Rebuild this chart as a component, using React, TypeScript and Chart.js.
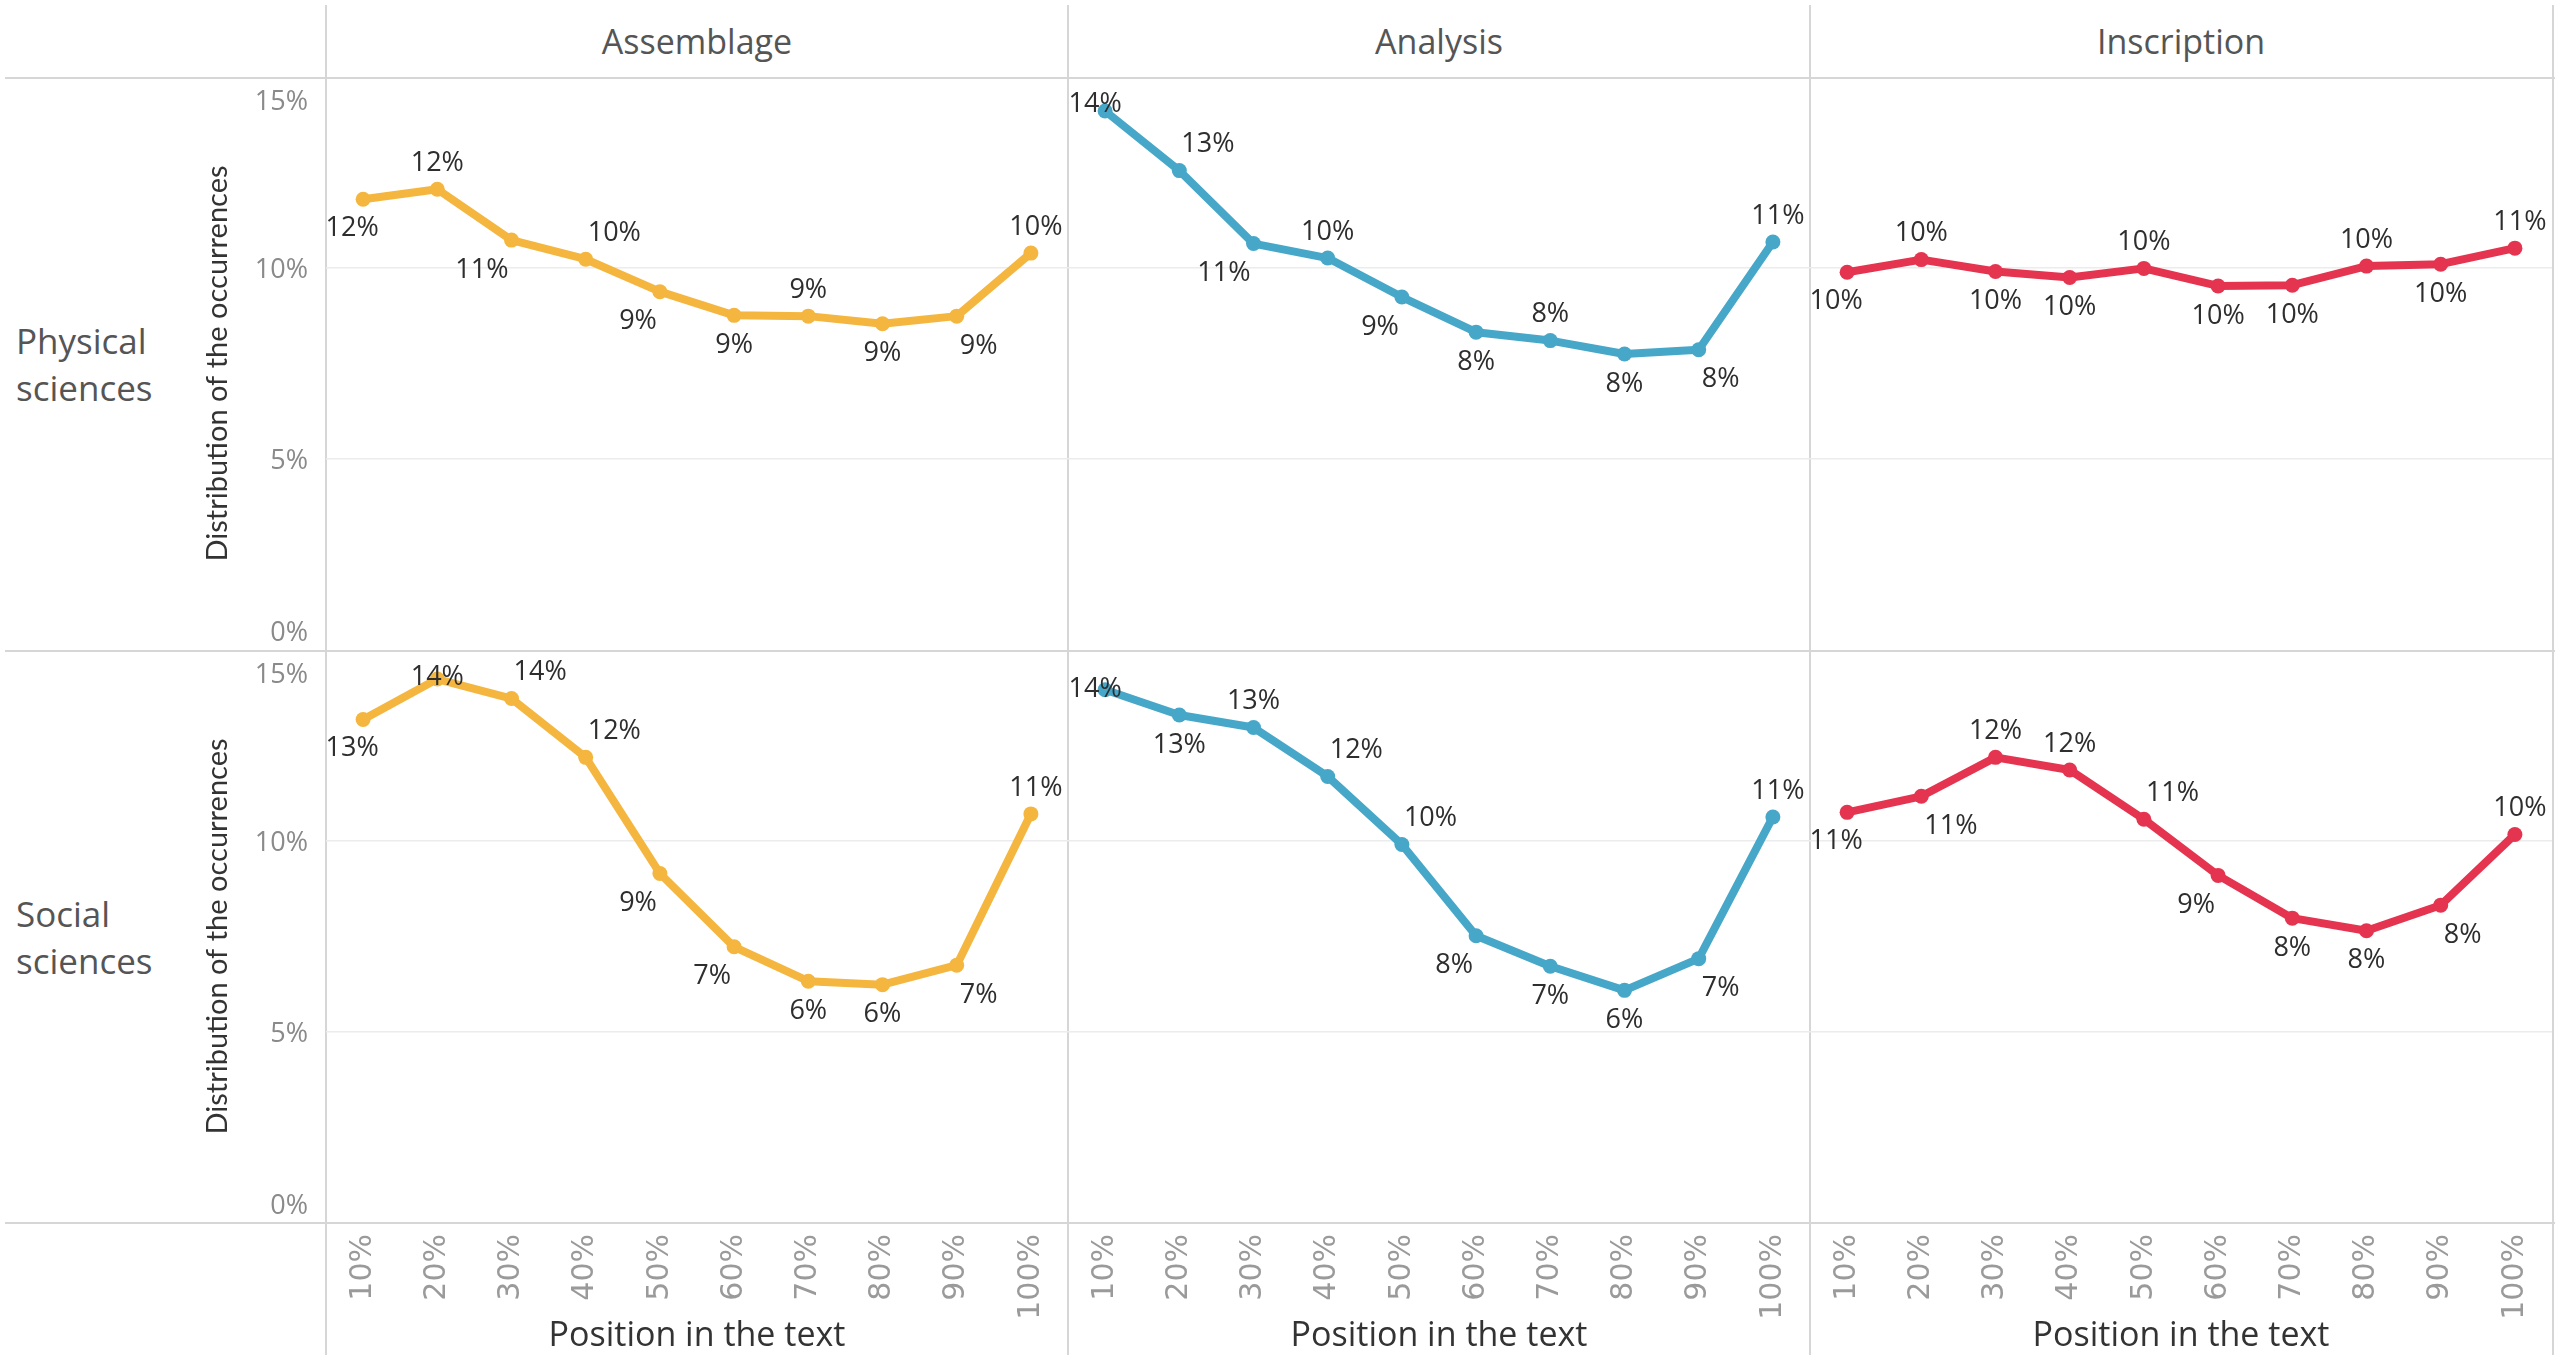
import React, { useEffect, useRef } from 'react';
import { Chart, registerables } from 'chart.js';

Chart.register(...registerables);

// ---------- data ----------
const positions = ['10%', '20%', '30%', '40%', '50%', '60%', '70%', '80%', '90%', '100%'];
const facets = ['Assemblage', 'Analysis', 'Inscription'];
const disciplines = [['Physical', 'sciences'], ['Social', 'sciences']];
const yAxisTitle = 'Distribution of the occurrences';
const xAxisTitle = 'Position in the text';
const yMax = 15;
const yStep = 5;

const physicalAssemblage = [11.8, 12.06, 10.73, 10.23, 9.38, 8.76, 8.74, 8.54, 8.74, 10.39];
const physicalAnalysis = [14.11, 12.55, 10.64, 10.26, 9.24, 8.32, 8.1, 7.75, 7.86, 10.68];
const physicalInscription = [9.89, 10.22, 9.91, 9.75, 9.99, 9.53, 9.55, 10.05, 10.1, 10.52];
const socialAssemblage = [13.18, 14.24, 13.73, 12.19, 9.15, 7.23, 6.33, 6.24, 6.75, 10.71];
const socialAnalysis = [13.96, 13.3, 12.97, 11.69, 9.91, 7.52, 6.72, 6.09, 6.92, 10.63];
const socialInscription = [10.75, 11.17, 12.19, 11.86, 10.57, 9.1, 7.98, 7.65, 8.32, 10.17];

// ---------- layout / style ----------
const facetColors = ['#F4B63F', '#47A7C9', '#E5344F'];

// label placement codes: [dx, dy, textAlign]
const PLACE: Record<string, [number, number, CanvasTextAlign]> = {
  a: [0, -28, 'center'],
  ae: [5, -28, 'center'],
  b: [0, 28, 'center'],
  ar: [2, -28, 'left'],
  br: [3, 28, 'left'],
  bl: [-3, 28, 'right'],
  fl: [-11, 27, 'center'],
  fa: [-10, -9, 'center'],
  fm: [-10, -2, 'center'],
  t: [0, -4, 'center'],
};

const placesPhysAssem = ['fl', 'a', 'bl', 'ar', 'bl', 'b', 'a', 'b', 'br', 'ae'];
const placesPhysAnal = ['fa', 'ar', 'bl', 'a', 'bl', 'b', 'a', 'b', 'br', 'ae'];
const placesPhysInsc = ['fl', 'a', 'b', 'b', 'a', 'b', 'b', 'a', 'b', 'ae'];
const placesSocAssem = ['fl', 't', 'ar', 'ar', 'bl', 'bl', 'b', 'b', 'br', 'ae'];
const placesSocAnal = ['fm', 'b', 'a', 'ar', 'ar', 'bl', 'b', 'b', 'br', 'ae'];
const placesSocInsc = ['fl', 'br', 'a', 'a', 'ar', 'bl', 'b', 'b', 'br', 'ae'];

const PLOT_LEFT = [326, 1068, 1810];
const PLOT_W = 742;
const PLOT_TOP = [77, 650];
const PLOT_H = 573;
const Y_AXIS_W = 136;
const X_AXIS_H = 138;
const LINE_COLOR = '#d6d6d6';

const FONT = '"Open Sans", "DejaVu Sans", sans-serif';
const TICK_FONT = '"DejaVu Sans", "Open Sans", sans-serif';
const LABEL_FONT_SIZE = 27;

const panels = [
  { row: 0, col: 0, values: physicalAssemblage, places: placesPhysAssem },
  { row: 0, col: 1, values: physicalAnalysis, places: placesPhysAnal },
  { row: 0, col: 2, values: physicalInscription, places: placesPhysInsc },
  { row: 1, col: 0, values: socialAssemblage, places: placesSocAssem },
  { row: 1, col: 1, values: socialAnalysis, places: placesSocAnal },
  { row: 1, col: 2, values: socialInscription, places: placesSocInsc },
];

function makeLabelPlugin(places: string[]) {
  return {
    id: 'pointLabels',
    afterDatasetsDraw(chart: any) {
      const ctx = chart.ctx;
      const meta = chart.getDatasetMeta(0);
      const data = chart.data.datasets[0].data as number[];
      ctx.save();
      ctx.font = `${LABEL_FONT_SIZE}px ${FONT}`;
      ctx.fillStyle = '#2e2e2e';
      ctx.textBaseline = 'alphabetic';
      const capH = LABEL_FONT_SIZE * 0.714;
      meta.data.forEach((pt: any, i: number) => {
        const [dx, dy, align] = PLACE[places[i]] || PLACE.a;
        ctx.textAlign = align;
        ctx.fillText(`${Math.round(data[i])}%`, pt.x + dx, pt.y + dy + capH / 2);
      });
      ctx.restore();
    },
  };
}

const yTickLabelPlugin = {
  id: 'yTickLabels',
  afterDraw(chart: any) {
    const ctx = chart.ctx;
    const s = chart.scales.y;
    const { top, bottom, left } = chart.chartArea;
    ctx.save();
    ctx.font = `27px ${FONT}`;
    ctx.fillStyle = '#8a8a8a';
    ctx.textAlign = 'right';
    ctx.textBaseline = 'alphabetic';
    s.ticks.forEach((t: any) => {
      const y = s.getPixelForValue(t.value);
      const base = Math.min(Math.max(y + 10, top + 33), bottom - 9);
      ctx.fillText(`${t.value}%`, left - 18, base);
    });
    ctx.restore();
  },
};

function PanelChart({ row, col, values, places }: { row: number; col: number; values: number[]; places: string[] }) {
  const ref = useRef<HTMLCanvasElement>(null);
  const yAxisW = col === 0 ? Y_AXIS_W : 0;
  const padL = col === 0 ? 0 : 20;
  const padR = col === 2 ? 8 : 20;
  const padT = 12;
  const padB = row === 0 ? 12 : 0;
  const xAxisH = row === 1 ? X_AXIS_H : 0;
  const left = PLOT_LEFT[col] - yAxisW - padL;
  const top = PLOT_TOP[row] - padT;
  const width = yAxisW + padL + PLOT_W + padR;
  const height = padT + PLOT_H + padB + xAxisH;

  useEffect(() => {
    const color = facetColors[col];
    const plugins: any[] = [makeLabelPlugin(places)];
    if (col === 0) plugins.push(yTickLabelPlugin);
    const chart = new Chart(ref.current as HTMLCanvasElement, {
      type: 'line',
      data: {
        labels: positions,
        datasets: [
          {
            data: values,
            borderColor: color,
            backgroundColor: color,
            borderWidth: 8,
            pointRadius: 7.5,
            pointBorderWidth: 0,
            pointHoverRadius: 7.5,
            tension: 0,
            borderJoinStyle: 'round',
            borderCapStyle: 'round',
            clip: false as any,
          },
        ],
      },
      options: {
        responsive: false,
        animation: false,
        events: [],
        layout: { autoPadding: false, padding: { left: padL, right: padR, top: padT, bottom: padB } },
        plugins: { legend: { display: false }, tooltip: { enabled: false } },
        scales: {
          x: {
            type: 'category',
            offset: true,
            display: row === 1,
            grid: { display: false },
            border: { display: false },
            ticks: {
              autoSkip: false,
              minRotation: 90,
              maxRotation: 90,
              padding: 3,
              color: '#9a9a9a',
              font: { family: TICK_FONT, size: 30 },
            },
            title: {
              display: true,
              text: xAxisTitle,
              color: '#333333',
              font: { family: FONT, size: 34 },
              padding: { top: 0, bottom: 4 },
            },
            afterFit: (s: any) => {
              s.height = xAxisH;
            },
          },
          y: {
            min: 0,
            max: yMax,
            display: true,
            ticks: { display: false, stepSize: yStep },
            grid: {
              drawTicks: false,
              lineWidth: 1.5,
              color: (c: any) =>
                c.tick && c.tick.value > 0 && c.tick.value < yMax ? '#ececec' : 'rgba(0,0,0,0)',
            },
            border: { display: false },
            title: {
              display: col === 0,
              text: yAxisTitle,
              color: '#333333',
              font: { family: 'Lato, "Open Sans", sans-serif', size: 29 },
              padding: { top: 10, bottom: 0 },
            },
            afterFit: (s: any) => {
              s.width = yAxisW;
            },
          },
        },
      },
      plugins,
    } as any);
    return () => chart.destroy();
  }, []);

  return (
    <div style={{ position: 'absolute', left, top, width, height }}>
      <canvas ref={ref} width={width} height={height} style={{ width, height, display: 'block' }} />
    </div>
  );
}

export default function App() {
  const hLines = [77, 650, 1222];
  const vLines = [325, 1067, 1809, 2552];
  return (
    <div
      style={{
        position: 'absolute',
        left: 0,
        top: 0,
        width: 2560,
        height: 1361,
        overflow: 'hidden',
        background: '#ffffff',
        fontFamily: FONT,
      }}
    >
      {hLines.map((y) => (
        <div key={'h' + y} style={{ position: 'absolute', left: 5, top: y, width: 2550, height: 2, background: LINE_COLOR }} />
      ))}
      {vLines.map((x) => (
        <div key={'v' + x} style={{ position: 'absolute', left: x, top: 5, width: 2, height: 1350, background: LINE_COLOR }} />
      ))}
      {facets.map((f, i) => (
        <div
          key={f}
          style={{
            position: 'absolute',
            left: PLOT_LEFT[i],
            top: 5,
            width: PLOT_W,
            height: 72,
            display: 'flex',
            alignItems: 'center',
            justifyContent: 'center',
            fontSize: 34,
            color: '#555555',
          }}
        >
          {f}
        </div>
      ))}
      {disciplines.map((lines, r) => (
        <div
          key={r}
          style={{
            position: 'absolute',
            left: 16,
            top: PLOT_TOP[r],
            width: 180,
            height: PLOT_H,
            display: 'flex',
            flexDirection: 'column',
            justifyContent: 'center',
            fontSize: 35,
            lineHeight: '47px',
            color: '#555555',
          }}
        >
          {lines.map((l) => (
            <div key={l}>{l}</div>
          ))}
        </div>
      ))}
      {panels.map((p) => (
        <PanelChart key={`${p.row}-${p.col}`} row={p.row} col={p.col} values={p.values} places={p.places} />
      ))}
    </div>
  );
}
